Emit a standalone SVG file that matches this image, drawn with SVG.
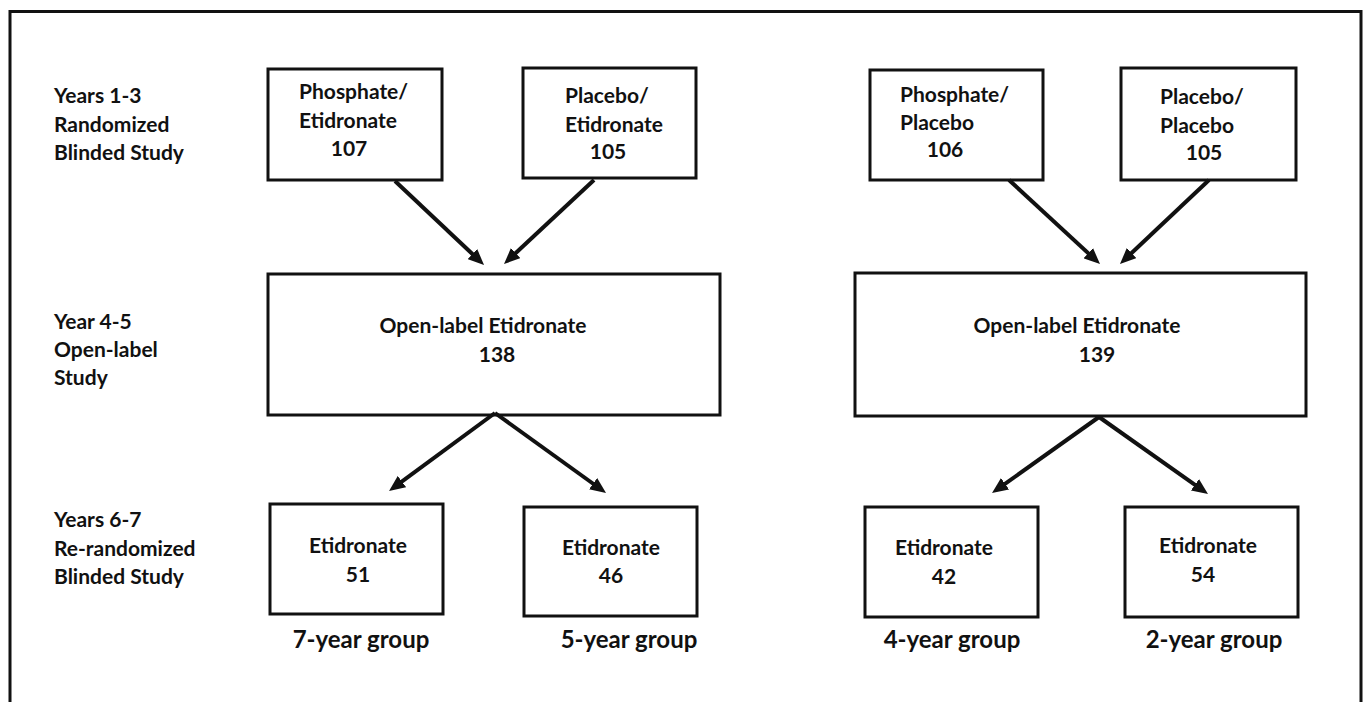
<svg xmlns="http://www.w3.org/2000/svg" width="1364" height="702" viewBox="0 0 1364 702">
  <style>
    .frame { fill: none; stroke: #111; stroke-width: 3; }
    .box { fill: #fff; stroke: #111; stroke-width: 3; }
    .t { font-family: Lato, "Liberation Sans", sans-serif; font-weight: 700; font-size: 21px; fill: #111; }
    .m { text-anchor: middle; }
    .g { font-size: 24px; }
    .conn line { stroke: #111; stroke-width: 4; marker-end: url(#ah); }
  </style>
  <defs>
    <marker id="ah" markerUnits="userSpaceOnUse" markerWidth="16" markerHeight="14" viewBox="0 0 16 14" refX="4" refY="7" orient="auto">
      <path d="M0,0 L16,7 L0,14 z" fill="#111"/>
    </marker>
  </defs>
  <rect width="1364" height="702" fill="#fff"/>
  <rect class="frame" x="10" y="11.5" width="1351" height="720"/>

  <g id="phase-labels">
    <text class="t" x="54" y="103">Years 1-3</text>
    <text class="t" x="54" y="132">Randomized</text>
    <text class="t" x="54" y="160">Blinded Study</text>
    <text class="t" x="54" y="329">Year 4-5</text>
    <text class="t" x="54" y="357">Open-label</text>
    <text class="t" x="54" y="385">Study</text>
    <text class="t" x="54" y="527">Years 6-7</text>
    <text class="t" x="54" y="556">Re-randomized</text>
    <text class="t" x="54" y="584">Blinded Study</text>
  </g>

  <g id="n-phos-etid">
    <rect class="box" x="268" y="69" width="174" height="111"/>
    <text class="t" x="299" y="99">Phosphate/</text>
    <text class="t" x="299" y="128">Etidronate</text>
    <text class="t m" x="349" y="156">107</text>
  </g>
  <g id="n-plac-etid">
    <rect class="box" x="523" y="68" width="173" height="110"/>
    <text class="t" x="565" y="103">Placebo/</text>
    <text class="t" x="565" y="132">Etidronate</text>
    <text class="t m" x="608" y="159">105</text>
  </g>
  <g id="n-phos-plac">
    <rect class="box" x="870" y="70" width="173" height="110"/>
    <text class="t" x="900" y="102">Phosphate/</text>
    <text class="t" x="900" y="130">Placebo</text>
    <text class="t m" x="945" y="157">106</text>
  </g>
  <g id="n-plac-plac">
    <rect class="box" x="1121" y="68" width="175" height="112"/>
    <text class="t" x="1160" y="104">Placebo/</text>
    <text class="t" x="1160" y="133">Placebo</text>
    <text class="t m" x="1204" y="160">105</text>
  </g>

  <g id="n-open-left">
    <rect class="box" x="268" y="274" width="452" height="141"/>
    <text class="t m" x="483" y="333">Open-label Etidronate</text>
    <text class="t m" x="497" y="362">138</text>
  </g>
  <g id="n-open-right">
    <rect class="box" x="855" y="273" width="451" height="143"/>
    <text class="t m" x="1077" y="333">Open-label Etidronate</text>
    <text class="t m" x="1097" y="362">139</text>
  </g>

  <g id="n-etid-51">
    <rect class="box" x="270" y="504" width="173" height="110"/>
    <text class="t m" x="358" y="553">Etidronate</text>
    <text class="t m" x="358" y="582">51</text>
  </g>
  <g id="n-etid-46">
    <rect class="box" x="524" y="507" width="173" height="109"/>
    <text class="t m" x="611" y="555">Etidronate</text>
    <text class="t m" x="611" y="583">46</text>
  </g>
  <g id="n-etid-42">
    <rect class="box" x="865" y="507" width="173" height="110"/>
    <text class="t m" x="944" y="555">Etidronate</text>
    <text class="t m" x="944" y="584">42</text>
  </g>
  <g id="n-etid-54">
    <rect class="box" x="1125" y="507" width="173" height="110"/>
    <text class="t m" x="1208" y="553">Etidronate</text>
    <text class="t m" x="1203" y="582">54</text>
  </g>

  <g id="group-labels">
    <text class="t g m" x="361" y="648">7-year group</text>
    <text class="t g m" x="629" y="648">5-year group</text>
    <text class="t g m" x="952" y="648">4-year group</text>
    <text class="t g m" x="1214" y="648">2-year group</text>
  </g>

  <g id="connectors" class="conn">
    <line x1="395" y1="181" x2="475.3" y2="256.8"/>
    <line x1="594" y1="180" x2="512.8" y2="255.8"/>
    <line x1="1009" y1="180" x2="1091.2" y2="255.9"/>
    <line x1="1209" y1="180" x2="1128.7" y2="255.8"/>
    <line x1="495" y1="413" x2="398.7" y2="483.9"/>
    <line x1="495" y1="413" x2="596.3" y2="486.0"/>
    <line x1="1099" y1="417" x2="1001.8" y2="486.1"/>
    <line x1="1099" y1="417" x2="1198.2" y2="487.1"/>
  </g>
</svg>
